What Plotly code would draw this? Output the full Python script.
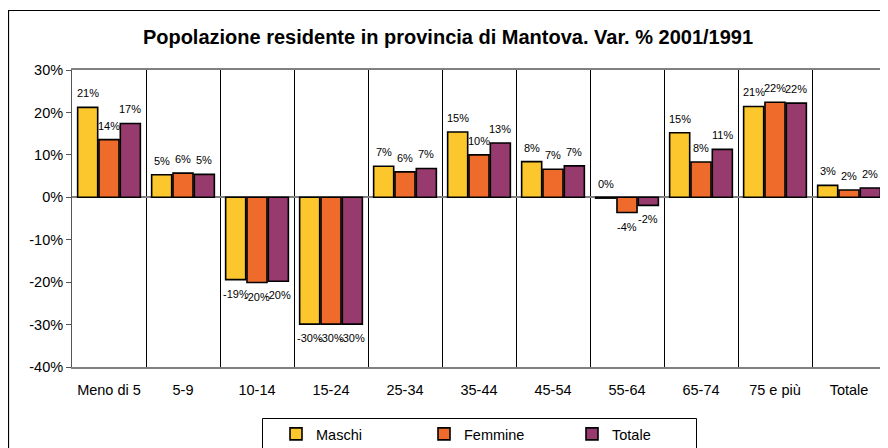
import plotly.graph_objects as go

categories = ["Meno di 5", "5-9", "10-14", "15-24", "25-34", "35-44", "45-54", "55-64", "65-74", "75 e più", "Totale"]
maschi = [21.2, 5.3, -19.4, -29.9, 7.3, 15.4, 8.4, -0.2, 15.2, 21.4, 2.8]
femmine = [13.6, 5.7, -20.1, -29.9, 6.0, 10.0, 6.6, -3.6, 8.3, 22.4, 1.7]
totale = [17.4, 5.4, -19.8, -29.9, 6.8, 12.8, 7.4, -1.9, 11.3, 22.2, 2.2]
series_names = ["Maschi", "Femmine", "Totale"]
colors = ["#FCC72C", "#EE6B2C", "#973A6D"]
yticks = [30, 20, 10, 0, -10, -20, -30, -40]

FONT = "Liberation Sans, Arial, Helvetica"

# page has an 8px body margin: figure origin is at page (8, 8)
W, H = 880, 440
L, R, T, B = 64, 2, 62, 81
pw, ph = W - L - R, H - T - B

def px(x):
    return (x - L) / pw

def py(y):
    return (H - B - y) / ph

bargap, groupgap = 0.135, 0.06
cat_w = pw / len(categories)
slot = cat_w * (1 - bargap) / 3

fig = go.Figure()
annotations = []
for i, (name, vals, col) in enumerate(zip(series_names, [maschi, femmine, totale], colors)):
    fig.add_trace(go.Bar(
        x=categories, y=vals, name=name,
        marker=dict(color=col, line=dict(color="black", width=1.6)),
    ))
    for c, v in zip(categories, vals):
        r = int(round(v))
        annotations.append(dict(
            x=c, y=v, xref="x", yref="y", text=f"{r}%", showarrow=False,
            xshift=(i - 1) * slot, yshift=14 if r >= 0 else -14,
            xanchor="center", yanchor="middle",
            font=dict(size=11, color="black", family=FONT),
        ))

# outer chart frame
fig.add_shape(type="rect", xref="paper", yref="paper",
              x0=px(0.5), x1=px(890), y0=py(450), y1=py(2.5),
              line=dict(color="black", width=1.2), fillcolor="rgba(0,0,0,0)", layer="below")
# legend frame
fig.add_shape(type="rect", xref="paper", yref="paper",
              x0=px(254.5), x1=px(688.5), y0=py(460), y1=py(410.5),
              line=dict(color="black", width=1), fillcolor="white", layer="below")

fig.update_layout(
    width=W, height=H,
    margin=dict(l=L, r=R, t=T, b=B, autoexpand=False),
    paper_bgcolor="white", plot_bgcolor="white",
    barmode="group", bargap=bargap, bargroupgap=groupgap,
    font=dict(family=FONT, size=14, color="black"),
    title=dict(text="<b>Popolazione residente in provincia di Mantova. Var. % 2001/1991</b>",
               x=px(440), xanchor="center", xref="paper", y=1 - 29 / H, yanchor="middle",
               font=dict(size=20, family=FONT, color="black")),
    annotations=annotations,
    showlegend=True,
    legend=dict(orientation="h", x=px(490), xanchor="center", y=py(410), yanchor="top",
                borderwidth=0, bgcolor="rgba(0,0,0,0)",
                entrywidth=103, entrywidthmode="pixels", itemwidth=30,
                font=dict(size=14.5, family=FONT), traceorder="normal"),
    xaxis=dict(type="category", tickson="boundaries", showgrid=True, gridcolor="black", gridwidth=1,
               ticks="", showline=True, linecolor="#808080", linewidth=1.5, mirror=True,
               tickfont=dict(size=14.5), ticklabelstandoff=9),
    yaxis=dict(range=[-40, 30], tickvals=yticks, ticktext=[f"{v}%" for v in yticks],
               showgrid=False, zeroline=True, zerolinecolor="#808080", zerolinewidth=2,
               showline=True, linecolor="#555555", linewidth=1, mirror=True,
               ticks="outside", ticklen=5, tickcolor="#555555", tickfont=dict(size=14.5)),
)

fig.write_html("out.html")
